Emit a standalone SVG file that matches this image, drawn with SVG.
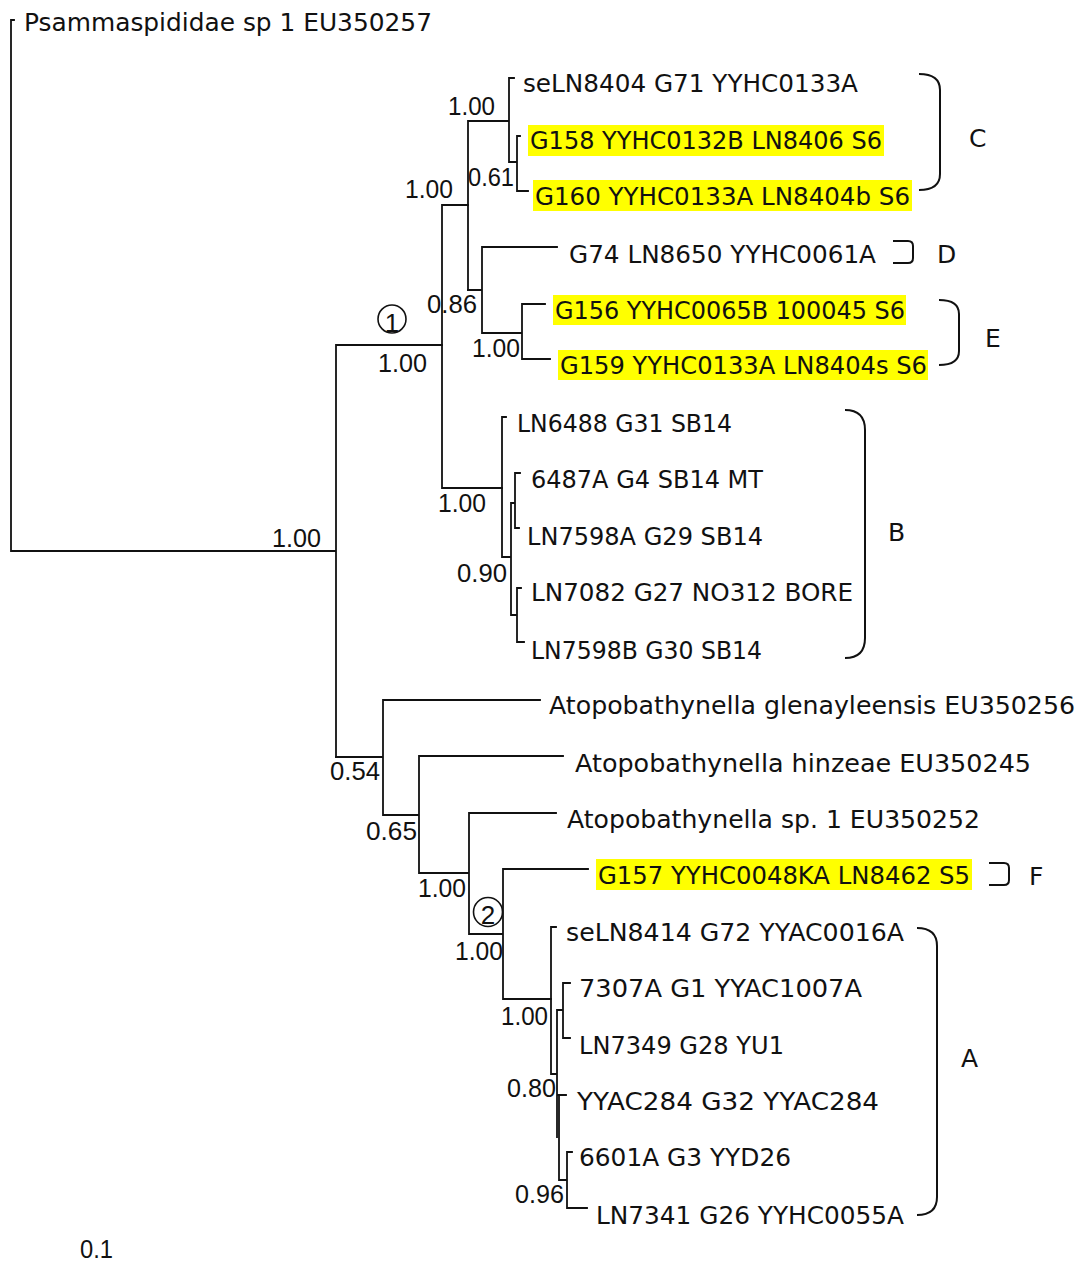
<svg xmlns="http://www.w3.org/2000/svg" width="1082" height="1269" viewBox="0 0 1082 1269">
<style>
text{font-family:"DejaVu Sans","Liberation Sans",sans-serif;font-size:25px;fill:#111;}
#support text,.cd{font-family:"Liberation Sans","DejaVu Sans",sans-serif;font-size:25px;}
.hl{fill:#ffff00;}
.ln{fill:none;stroke:#111;stroke-width:1.8;stroke-linecap:square;}
.br{fill:none;stroke:#111;stroke-width:2;}
.circ{fill:none;stroke:#111;stroke-width:1.6;}
.cd{text-anchor:middle;}
</style>
<rect width="1082" height="1269" fill="#fff"/>
<g id="connectors" class="ln">
<path d="M11,20 H14 M11,20 V551 M11,551 H336 M336,345 V757 M336,345 H442"/>
<path d="M442,205 V488 M442,205 H468 M442,488 H502"/>
<path d="M468,121 V290 M468,121 H509 M509,78 V162 M509,78 H514 M509,162 H517 M517,136 V191 M517,136 H520 M517,191 H528"/>
<path d="M468,290 H482 M482,247 V333 M482,247 H557 M482,333 H522 M522,304 V359 M522,304 H545 M522,359 H550"/>
<path d="M502,417 V557 M502,417 H506 M502,557 H511 M511,503 V615 M511,503 H515 M515,473 V528 M515,473 H520 M515,528 H519 M511,615 H517 M517,588 V642 M517,588 H521 M517,642 H524"/>
<path d="M336,757 H383 M383,700 V815 M383,700 H540 M383,815 H419 M419,756 V873 M419,756 H563 M419,873 H469 M469,813 V934 M469,813 H556 M469,934 H503 M503,869 V999 M503,869 H588 M503,999 H551"/>
<path d="M551,927 V1074 M551,927 H556 M551,1074 H557 M557,1010 V1137 M557,1010 H563 M563,983 V1038 M563,983 H570 M563,1038 H570 M557,1095 H566 M559,1097 V1180 M559,1180 H567 M567,1152 V1208 M567,1152 H572 M567,1208 H587"/>
</g>
<g id="markers">
<circle class="circ" cx="392" cy="319" r="14"/>
<text class="cd" x="392" y="332" style="font-size:26px">1</text>
<circle class="circ" cx="488" cy="912" r="14.5"/>
<text class="cd" x="488" y="924" style="font-size:26px">2</text>
</g>
<g id="support">
<text x="448" y="115" textLength="47" lengthAdjust="spacingAndGlyphs">1.00</text>
<text x="405" y="198" textLength="48" lengthAdjust="spacingAndGlyphs">1.00</text>
<text x="468" y="186" textLength="46" lengthAdjust="spacingAndGlyphs">0.61</text>
<text x="427" y="313" textLength="50" lengthAdjust="spacingAndGlyphs">0.86</text>
<text x="472" y="357" textLength="48" lengthAdjust="spacingAndGlyphs">1.00</text>
<text x="378" y="372" textLength="49" lengthAdjust="spacingAndGlyphs">1.00</text>
<text x="438" y="512" textLength="48" lengthAdjust="spacingAndGlyphs">1.00</text>
<text x="457" y="582" textLength="50" lengthAdjust="spacingAndGlyphs">0.90</text>
<text x="272" y="547" textLength="49" lengthAdjust="spacingAndGlyphs">1.00</text>
<text x="330" y="780" textLength="50" lengthAdjust="spacingAndGlyphs">0.54</text>
<text x="366" y="840" textLength="51" lengthAdjust="spacingAndGlyphs">0.65</text>
<text x="418" y="897" textLength="48" lengthAdjust="spacingAndGlyphs">1.00</text>
<text x="455" y="960" textLength="48" lengthAdjust="spacingAndGlyphs">1.00</text>
<text x="501" y="1025" textLength="47" lengthAdjust="spacingAndGlyphs">1.00</text>
<text x="507" y="1097" textLength="49" lengthAdjust="spacingAndGlyphs">0.80</text>
<text x="515" y="1203" textLength="49" lengthAdjust="spacingAndGlyphs">0.96</text>
<text x="80" y="1258" textLength="33" lengthAdjust="spacingAndGlyphs">0.1</text>
</g>
<g id="leaf-psamm"><text x="24" y="31" textLength="408" lengthAdjust="spacingAndGlyphs">Psammaspididae sp 1 EU350257</text></g>
<g id="leaf-seLN8404"><text x="523" y="92" textLength="335" lengthAdjust="spacingAndGlyphs">seLN8404 G71 YYHC0133A</text></g>
<g id="leaf-G158"><rect class="hl" x="528" y="125" width="356" height="31"/><text x="530" y="149" textLength="352" lengthAdjust="spacingAndGlyphs">G158 YYHC0132B LN8406 S6</text></g>
<g id="leaf-G160"><rect class="hl" x="533" y="180" width="379" height="31"/><text x="535" y="205" textLength="375" lengthAdjust="spacingAndGlyphs">G160 YYHC0133A LN8404b S6</text></g>
<g id="leaf-G74"><text x="569" y="263" textLength="307" lengthAdjust="spacingAndGlyphs">G74 LN8650 YYHC0061A</text></g>
<g id="leaf-G156"><rect class="hl" x="553" y="295" width="353" height="30"/><text x="555" y="319" textLength="350" lengthAdjust="spacingAndGlyphs">G156 YYHC0065B 100045 S6</text></g>
<g id="leaf-G159"><rect class="hl" x="558" y="350" width="370" height="30"/><text x="560" y="374" textLength="367" lengthAdjust="spacingAndGlyphs">G159 YYHC0133A LN8404s S6</text></g>
<g id="leaf-LN6488"><text x="517" y="432" textLength="215" lengthAdjust="spacingAndGlyphs">LN6488 G31 SB14</text></g>
<g id="leaf-6487A"><text x="531" y="488" textLength="232" lengthAdjust="spacingAndGlyphs">6487A G4 SB14 MT</text></g>
<g id="leaf-LN7598A"><text x="527" y="545" textLength="236" lengthAdjust="spacingAndGlyphs">LN7598A G29 SB14</text></g>
<g id="leaf-LN7082"><text x="531" y="601" textLength="322" lengthAdjust="spacingAndGlyphs">LN7082 G27 NO312 BORE</text></g>
<g id="leaf-LN7598B"><text x="531" y="659" textLength="231" lengthAdjust="spacingAndGlyphs">LN7598B G30 SB14</text></g>
<g id="leaf-glenayleensis"><text x="549" y="714" textLength="526" lengthAdjust="spacingAndGlyphs">Atopobathynella glenayleensis EU350256</text></g>
<g id="leaf-hinzeae"><text x="575" y="772" textLength="456" lengthAdjust="spacingAndGlyphs">Atopobathynella hinzeae EU350245</text></g>
<g id="leaf-sp1"><text x="567" y="828" textLength="413" lengthAdjust="spacingAndGlyphs">Atopobathynella sp. 1 EU350252</text></g>
<g id="leaf-G157"><rect class="hl" x="596" y="859" width="376" height="31"/><text x="598" y="884" textLength="372" lengthAdjust="spacingAndGlyphs">G157 YYHC0048KA LN8462 S5</text></g>
<g id="leaf-seLN8414"><text x="566" y="941" textLength="338" lengthAdjust="spacingAndGlyphs">seLN8414 G72 YYAC0016A</text></g>
<g id="leaf-7307A"><text x="579" y="997" textLength="283" lengthAdjust="spacingAndGlyphs">7307A G1 YYAC1007A</text></g>
<g id="leaf-LN7349"><text x="579" y="1054" textLength="205" lengthAdjust="spacingAndGlyphs">LN7349 G28 YU1</text></g>
<g id="leaf-YYAC284"><text x="577" y="1110" textLength="302" lengthAdjust="spacingAndGlyphs">YYAC284 G32 YYAC284</text></g>
<g id="leaf-6601A"><text x="579" y="1166" textLength="212" lengthAdjust="spacingAndGlyphs">6601A G3 YYD26</text></g>
<g id="leaf-LN7341"><text x="596" y="1224" textLength="308" lengthAdjust="spacingAndGlyphs">LN7341 G26 YYHC0055A</text></g>
<g id="clade-C"><path class="br" d="M919,74 Q940,74 940,90 L940,174 Q940,190 919,190"/><text x="969" y="147">C</text></g>
<g id="clade-D"><path class="br" d="M893,241 H908 Q913,241 913,246 V258 Q913,263 908,263 H893"/><text x="937" y="263">D</text></g>
<g id="clade-E"><path class="br" d="M939,300 Q959,300 959,314 L959,351 Q959,365 939,365"/><text x="985" y="347">E</text></g>
<g id="clade-B"><path class="br" d="M845,410 Q865,410 865,430 L865,638 Q865,658 845,658"/><text x="888" y="541">B</text></g>
<g id="clade-F"><path class="br" d="M989,863 H1004 Q1009,863 1009,868 V880 Q1009,885 1004,885 H989"/><text x="1029" y="885">F</text></g>
<g id="clade-A"><path class="br" d="M917,928 Q937,928 937,946 L937,1197 Q937,1215 917,1215"/><text x="961" y="1067">A</text></g>
</svg>
